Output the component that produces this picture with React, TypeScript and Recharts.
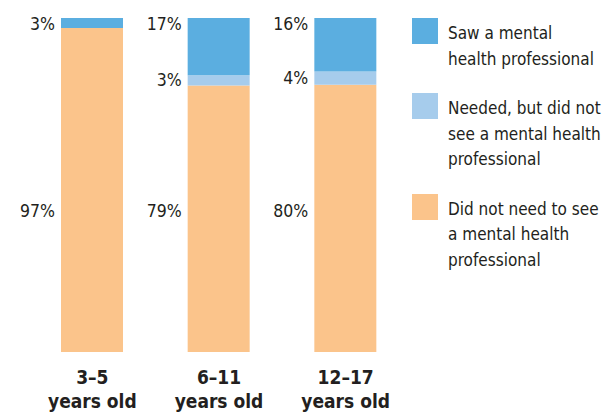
import { BarChart, Bar, XAxis, YAxis, LabelList } from "recharts";

// Share of children by mental health care need, by age group
const AGE_GROUPS = ["3–5", "6–11", "12–17"];
const SAW = [3, 17, 16];
const NEEDED = [0, 3, 4];
const NOT_NEEDED = [97, 79, 80];

const SERIES = [
  { key: "saw", lines: ["Saw a mental", "health professional"], color: "#5BAEE0" },
  { key: "needed", lines: ["Needed, but did not", "see a mental health", "professional"], color: "#A6CCEC" },
  { key: "notNeeded", lines: ["Did not need to see", "a mental health", "professional"], color: "#FBC48B" },
];

const FONT = '"DejaVu Sans Condensed", "DejaVu Sans", sans-serif';
const TEXT = "#231f20";

const data = AGE_GROUPS.map((g, i) => ({
  group: g,
  saw: SAW[i],
  needed: NEEDED[i],
  notNeeded: NOT_NEEDED[i],
}));

type Place = "top" | "middle" | "low";

function pctLabel(place: Place) {
  return (props: any) => {
    const { x, y, height, value } = props;
    if (!value) return null;
    let ty = y + 12;
    if (place === "middle") ty = y + height / 2 + 6;
    if (place === "low") ty = y + height - 135;
    return (
      <text x={x - 6} y={ty} textAnchor="end" fontFamily={FONT} fontStretch="condensed" fontSize={17.5} fill={TEXT}>
        {value}%
      </text>
    );
  };
}

function AgeTick({ x, y, payload }: any) {
  return (
    <g fontFamily={FONT} fontStretch="condensed" fontWeight="bold" fontSize={19} fill={TEXT}>
      <text x={x} y={y + 24} textAnchor="middle">{payload.value}</text>
      <text x={x} y={y + 48} textAnchor="middle">years old</text>
    </g>
  );
}

function LegendBox() {
  return (
    <div
      style={{
        position: "absolute",
        left: 412,
        top: 18,
        fontFamily: FONT,
        fontStretch: "condensed",
        fontSize: 17,
        color: TEXT,
        lineHeight: "25.5px",
        whiteSpace: "nowrap",
      }}
    >
      {SERIES.map((s) => (
        <div key={s.key} style={{ display: "flex", marginBottom: 21 }}>
          <div style={{ width: 26, height: 26, background: s.color, flexShrink: 0 }} />
          <div style={{ marginLeft: 10, marginTop: 3 }}>
            {s.lines.map((l) => (
              <div key={l}>{l}</div>
            ))}
          </div>
        </div>
      ))}
    </div>
  );
}

export default function App() {
  return (
    <div style={{ position: "absolute", left: 0, top: 0, width: 616, height: 416, background: "#fff" }}>
      <BarChart
        width={616}
        height={416}
        data={data}
        stackOffset="expand"
        barSize={62}
        margin={{ top: 18, right: 207, left: 29, bottom: 0 }}
      >
        <XAxis dataKey="group" axisLine={false} tickLine={false} height={64} interval={0} tick={<AgeTick />} />
        <YAxis hide domain={[0, 1]} />
        <Bar dataKey="notNeeded" stackId="a" fill={SERIES[2].color} isAnimationActive={false}>
          <LabelList dataKey="notNeeded" content={pctLabel("low")} />
        </Bar>
        <Bar dataKey="needed" stackId="a" fill={SERIES[1].color} isAnimationActive={false}>
          <LabelList dataKey="needed" content={pctLabel("middle")} />
        </Bar>
        <Bar dataKey="saw" stackId="a" fill={SERIES[0].color} isAnimationActive={false}>
          <LabelList dataKey="saw" content={pctLabel("top")} />
        </Bar>
      </BarChart>
      <LegendBox />
    </div>
  );
}
